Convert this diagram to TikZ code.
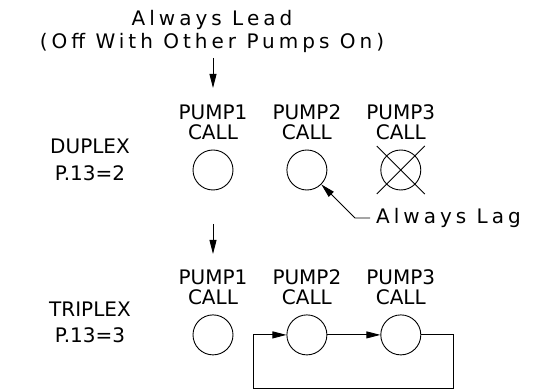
\documentclass[tikz,border=0pt]{standalone}
\usepackage{fontspec}
\setmainfont{DejaVu Sans}
\newfontfamily\widefont[LetterSpace=20]{DejaVu Sans}
\usetikzlibrary{positioning,arrows.meta,calc}

\begin{document}
\begin{tikzpicture}[
    x=1pt, y=1pt,
    node distance=53pt,
    lamp/.style={
        circle,
        draw,
        line width=0.9pt,
        minimum size=40pt,
        inner sep=0pt
    },
    tag/.style={
        font=\fontsize{20}{20}\selectfont,
        inner sep=0pt,
        align=center,
        text depth=0pt
    },
    note/.style={
        font=\fontsize{20}{23}\selectfont\widefont,
        inner sep=0pt
    },
    line/.style={
        draw,
        line width=0.9pt,
        -{Triangle[length=14pt,width=7pt]}
    },
    wire/.style={
        draw,
        line width=0.9pt
    }
]
    \useasboundingbox (0,0) rectangle (547,391);

    % --- Top note: lead pump ---
    \node [note, anchor=base] (lead) at (212,365) {Always Lead};
    \node [note, anchor=base] (leadoff) at (212,342) {(Off With Other Pumps On)};
    \coordinate (leadtop) at (213,333);
    \coordinate (leadtip) at (213,303);

    % --- Duplex row ---
    \node [tag, anchor=base] (duplex) at (90,237) {DUPLEX};
    \node [tag, anchor=base] (dupset) at (90,210) {P.13=2};
    \node [lamp] (p1a) at (213,221) {};
    \node [lamp, right=of p1a] (p2a) {};
    \node [lamp, right=of p2a] (p3a) {};
    \node [tag, above=10pt of p1a] (c1a) {PUMP1\\CALL};
    \node [tag, above=10pt of p2a] (c2a) {PUMP2\\CALL};
    \node [tag, above=10pt of p3a] (c3a) {PUMP3\\CALL};
    % Pump 3 crossed out
    \draw [wire] ($(p3a)+(-24,24)$) -- ($(p3a)+(24,-24)$);
    \draw [wire] ($(p3a)+(-24,-24)$) -- ($(p3a)+(24,24)$);

    % Lag note
    \node [note, anchor=west, inner xsep=6pt] (lag) at (370,173) {Always Lag};
    \coordinate (lagbend) at (355,173);

    % --- Triplex row ---
    \node [tag, anchor=base] (triplex) at (90,74) {TRIPLEX};
    \node [tag, anchor=base] (triset) at (90,48) {P.13=3};
    \node [lamp, below=124pt of p1a] (p1b) {};
    \node [lamp, right=of p1b] (p2b) {};
    \node [lamp, right=of p2b] (p3b) {};
    \node [tag, above=10pt of p1b] (c1b) {PUMP1\\CALL};
    \node [tag, above=10pt of p2b] (c2b) {PUMP2\\CALL};
    \node [tag, above=10pt of p3b] (c3b) {PUMP3\\CALL};
    \coordinate (tritop) at (213,167);
    \coordinate (tritip) at (213,137);
    \coordinate (loopse) at (453,3);
    \coordinate (loopsw) at (253,3);

    % --- Connections ---
    \path [line] (leadtop) -- (leadtip);
    \path [line] (lag.west) -- (lagbend) -- (p2a.-45);
    \path [line] (tritop) -- (tritip);
    \path [line] (p2b) -- (p3b);
    % Rotation back to pump 2
    \path [line] (p3b.east) -| (loopse) -- (loopsw) |- (p2b.west);

\end{tikzpicture}
\end{document}
